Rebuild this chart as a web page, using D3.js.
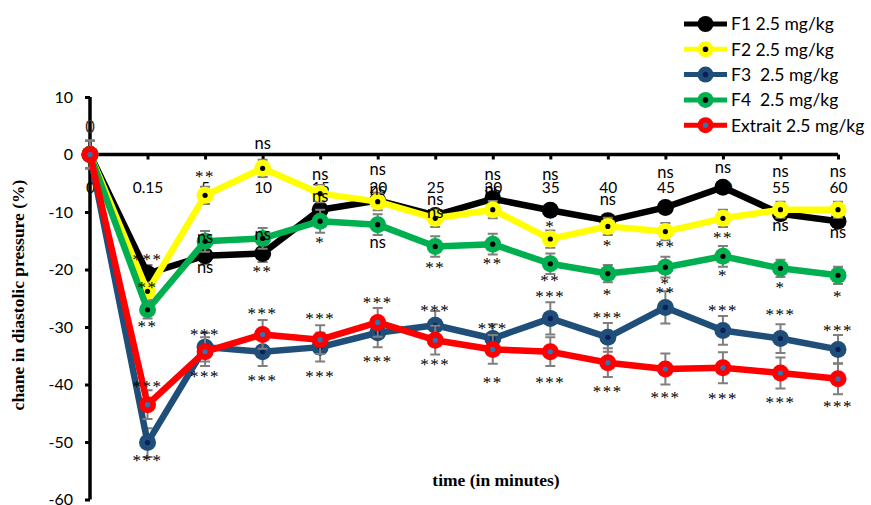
<!DOCTYPE html>
<html><head><meta charset="utf-8">
<script src="https://cdn.jsdelivr.net/npm/d3@7"></script>
<style>body{margin:0;background:#fff}svg{display:block}</style>
</head><body>
<svg id="c" width="871" height="505"></svg>
<script>
const categories = ["0","0.15","5","10","15","20","25","30","35","40","45","50","55","60"];
const yTicks = [10,0,-10,-20,-30,-40,-50,-60];
const seriesNames = ["F1 2.5 mg/kg","F2 2.5 mg/kg","F3  2.5 mg/kg","F4  2.5 mg/kg","Extrait 2.5 mg/kg"];
const f1 = [0,-20.7,-17.6,-17.2,-9.6,-8.0,-10.6,-7.7,-9.7,-11.5,-9.2,-5.7,-10.3,-11.6];
const f2 = [0,-23.8,-7.1,-2.4,-6.8,-8.2,-11.1,-9.6,-14.7,-12.5,-13.4,-11.1,-9.6,-9.6];
const f3 = [0,-50.1,-33.5,-34.3,-33.5,-31.0,-29.7,-32.0,-28.5,-31.8,-26.6,-30.6,-32.0,-33.9];
const f4 = [0,-27.0,-15.1,-14.6,-11.6,-12.2,-16.0,-15.6,-19.0,-20.7,-19.6,-17.7,-19.8,-21.0];
const extrait = [0,-43.5,-34.3,-31.3,-32.2,-29.2,-32.3,-33.9,-34.3,-36.2,-37.3,-37.1,-38.0,-39.0];
const f1Err = [2.4,1.5,1.5,1.5,1.5,1,1,1,1,1,1,1,1,1];
const f2Err = [2.4,1.5,1.5,1.5,1.5,1.5,1.5,1.5,1.5,1.5,1.5,1.5,1.4,1.4];
const f3Err = [2.4,2.5,2.5,2.5,2.5,2.5,2.5,2.5,2.8,2.5,2.8,2.5,2.5,2.5];
const f4Err = [2.4,1.5,1.8,1.8,2,1.8,1.8,1.8,1.8,1.5,1.8,1.8,1.5,1.5];
const extraitErr = [2.4,2.5,2.5,2.5,2.5,2.5,2.5,2.5,2.5,2.5,2.7,2.7,2.7,2.7];
// significance labels: [category index, text, value where label sits]
const sigLabels = [
 [0,"0",4.6],
 [1,"***",-17.3],[1,"**",-22.3],[1,"**",-29.1],[1,"***",-39.4],[1,"***",-52.3],
 [2,"**",-3.0],[2,"ns",-14.5],[2,"ns",-19.7],[2,"***",-30.5],[2,"***",-37.8],
 [3,"ns",1.8],[3,"ns",-14.0],[3,"**",-19.4],[3,"***",-26.7],[3,"***",-38.5],
 [4,"ns",-3.6],[4,"ns",-7.4],[4,"*",-14.5],[4,"***",-27.6],[4,"***",-37.8],
 [5,"ns",-2.7],[5,"ns",-6.2],[5,"ns",-15.4],[5,"***",-24.8],[5,"***",-35.2],
 [6,"ns",-7.9],[6,"ns",-10.2],[6,"**",-18.7],[6,"***",-26.2],[6,"***",-35.7],
 [7,"ns",-3.6],[7,"ns",-6.2],[7,"**",-18.0],[7,"***",-29.3],[7,"**",-38.7],
 [8,"ns",-3.6],[8,"*",-11.7],[8,"**",-21.1],[8,"***",-23.9],[8,"***",-38.7],
 [9,"ns",-7.9],[9,"*",-14.9],[9,"*",-23.4],[9,"***",-27.4],[9,"***",-40.3],
 [10,"ns",-3.2],[10,"**",-15.2],[10,"*",-21.5],[10,"**",-23.2],[10,"***",-41.3],
 [11,"ns",-2.3],[11,"**",-13.5],[11,"*",-20.1],[11,"***",-26.2],[11,"***",-41.5],
 [12,"ns",-3.0],[12,"ns",-12.4],[12,"*",-22.3],[12,"***",-27.0],[12,"***",-42.3],
 [13,"ns",-3.0],[13,"ns",-13.7],[13,"*",-23.9],[13,"***",-29.7],[13,"***",-43.0]
];

const seriesStyle = [
  {color:"#000000", dot:null},
  {color:"#FFFF00", dot:"#000000"},
  {color:"#1F4E79", dot:"#0A1F5C"},
  {color:"#00B050", dot:"#000000"},
  {color:"#FF0000", dot:"#2E75B6"}
];
const values = [f1,f2,f3,f4,extrait];
const errs = [f1Err,f2Err,f3Err,f4Err,extraitErr];

const svg = d3.select("#c");
const x = d3.scalePoint().domain(d3.range(categories.length)).range([90,838]);
const y = d3.scaleLinear().domain([-60,10]).range([499.5,97]);
const sans = "Lato, 'Open Sans', sans-serif";
const serif = "'Liberation Serif', 'DejaVu Serif', serif";

// y axis
const yAxis = svg.append("g").attr("transform","translate(90,0)")
  .call(d3.axisLeft(y).tickValues(yTicks).tickSize(5).tickPadding(12).tickFormat(d=>String(d)));
yAxis.select(".domain").attr("stroke","#000").attr("stroke-width",3.5).attr("d",`M0,${y(10)}V${y(-60)}`);
yAxis.selectAll(".tick line").attr("stroke","#000").attr("stroke-width",3);
yAxis.selectAll(".tick text").attr("font-family",sans).attr("font-size",16).attr("fill","#000");

// x axis at zero
const xAxis = svg.append("g").attr("transform",`translate(0,${y(0)})`)
  .call(d3.axisBottom(x).tickSize(5).tickPadding(22).tickFormat(i=>categories[i]));
xAxis.select(".domain").attr("stroke","#000").attr("stroke-width",3.5).attr("d",`M90,0H838`);
xAxis.selectAll(".tick line").attr("stroke","#000").attr("stroke-width",3);
xAxis.selectAll(".tick text").attr("font-family",sans).attr("font-size",15.5).attr("fill","#000");

// series
values.forEach((vals,s)=>{
  const st = seriesStyle[s];
  const g = svg.append("g");
  const e = errs[s];
  g.selectAll("path.err").data(vals).join("path").attr("class","err")
    .attr("d",(v,i)=>{const xx=x(i),t=y(v+e[i]),b=y(v-e[i]);return `M${xx-5},${t}H${xx+5}M${xx},${t}V${b}M${xx-5},${b}H${xx+5}`;})
    .attr("stroke","#7F7F7F").attr("stroke-width",2).attr("fill","none");
  g.append("path").datum(vals)
    .attr("d",d3.line().x((v,i)=>x(i)).y(v=>y(v)))
    .attr("fill","none").attr("stroke",st.color).attr("stroke-width",6.5).attr("stroke-linejoin","round");
  g.selectAll("circle.m").data(vals).join("circle").attr("class","m")
    .attr("cx",(v,i)=>x(i)).attr("cy",v=>y(v)).attr("r",8.5).attr("fill",st.color);
  if (st.dot) g.selectAll("circle.d").data(vals).join("circle").attr("class","d")
    .attr("cx",(v,i)=>x(i)).attr("cy",v=>y(v)).attr("r",2.6).attr("fill",st.dot);
});

// significance labels
svg.append("g").selectAll("text").data(sigLabels).join("text")
  .attr("x",d=>x(d[0])).attr("y",d=>y(d[2]))
  .attr("dy",d=>d[1].includes("*")?"0.62em":"0.3em")
  .attr("text-anchor","middle")
  .attr("font-family",d=>d[1].includes("*")?serif:sans)
  .attr("font-size",d=>d[1].includes("*")?17:16.5)
  .attr("letter-spacing",d=>d[1].includes("*")?"1.5px":null)
  .attr("fill",d=>d[1]==="0"?"#333":"#000")
  .text(d=>d[1]);

// axis titles
svg.append("text").attr("transform","translate(24,295) rotate(-90)")
  .attr("text-anchor","middle").attr("font-family",serif).attr("font-weight","bold")
  .attr("font-size",17.5).text("chane in diastolic pressure (%)");
svg.append("text").attr("x",496).attr("y",486)
  .attr("text-anchor","middle").attr("font-family",serif).attr("font-weight","bold")
  .attr("font-size",17.5).text("time (in minutes)");

// legend
const lg = svg.append("g");
seriesNames.forEach((n,s)=>{
  const st = seriesStyle[s];
  const ly = 24 + s*25.3;
  lg.append("line").attr("x1",684).attr("x2",727).attr("y1",ly).attr("y2",ly)
    .attr("stroke",st.color).attr("stroke-width",5);
  lg.append("circle").attr("cx",705.5).attr("cy",ly).attr("r",8).attr("fill",st.color);
  if (st.dot) lg.append("circle").attr("cx",705.5).attr("cy",ly).attr("r",2.8).attr("fill",st.dot);
  lg.append("text").attr("x",731).attr("y",ly).attr("dy","0.36em")
    .style("white-space","pre")
    .attr("font-family",sans).attr("font-size",17.5).attr("fill","#000").text(n);
});
</script>
</body></html>
